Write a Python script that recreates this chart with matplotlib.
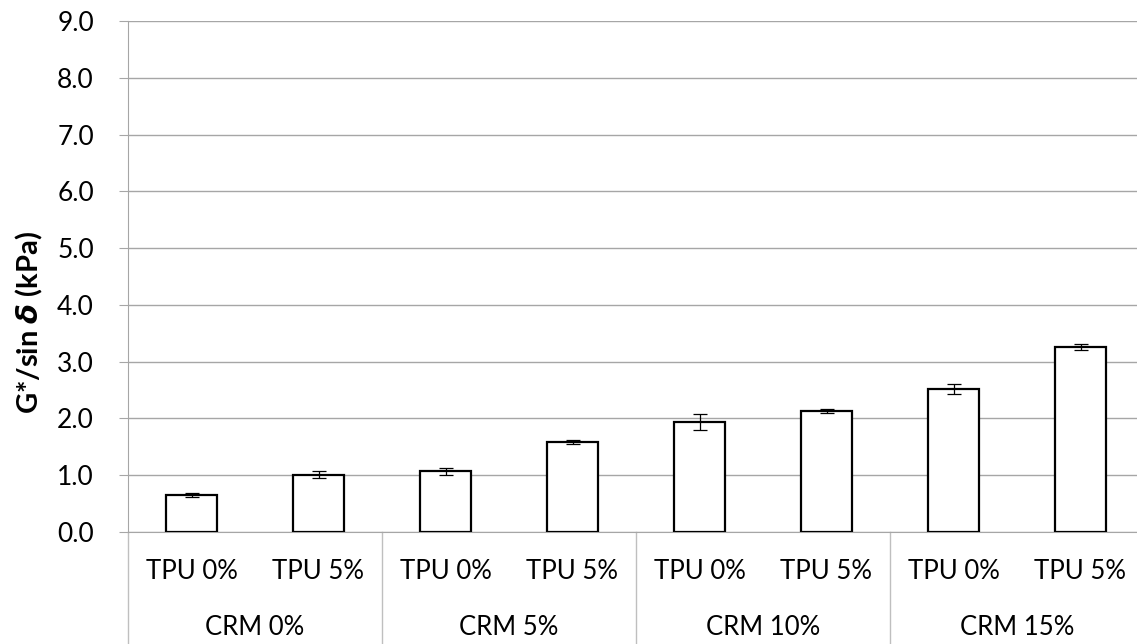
import numpy as np
import matplotlib
matplotlib.use('Agg')
import matplotlib.pyplot as plt
import matplotlib.transforms as mtransforms

plt.rcParams['font.family'] = ['Lato', 'DejaVu Sans']
plt.rcParams['mathtext.fontset'] = 'dejavusans'

# data
tpu_labels = ['TPU 0%', 'TPU 5%'] * 4
crm_labels = ['CRM 0%', 'CRM 5%', 'CRM 10%', 'CRM 15%']
values = [0.65, 1.01, 1.07, 1.58, 1.94, 2.13, 2.52, 3.26]
errors = [0.035, 0.065, 0.065, 0.035, 0.14, 0.04, 0.09, 0.047]

W, H = 1137, 644
fig = plt.figure(figsize=(W / 100, H / 100), dpi=100)
ax = fig.add_axes([128 / W, (H - 532) / H, 1016 / W, 511 / H])

x = np.arange(len(values))
ax.bar(x, values, width=0.4, color='white', edgecolor='black', linewidth=1.6, zorder=3)
ax.errorbar(x, values, yerr=errors, fmt='none', ecolor='black', elinewidth=0.9,
            capsize=5, capthick=0.9, zorder=4)

ax.set_xlim(-0.5, 7.5)
ax.set_ylim(0, 9)
ax.set_yticks(np.arange(0, 10, 1))
ax.set_yticklabels(['%.1f' % v for v in np.arange(0, 10, 1)], fontsize=19)
ax.set_xticks([])
ax.grid(axis='y', color='#a6a6a6', linewidth=1, zorder=0)
ax.tick_params(axis='y', length=6.5, color='#a6a6a6', pad=18)
for s in ['top', 'right']:
    ax.spines[s].set_visible(False)
ax.spines['left'].set_color('#a6a6a6')
ax.spines['bottom'].set_color('#a6a6a6')

fig.text(29 / W, 1 - 322 / H, r'G*/sin $\boldsymbol{\delta}$ (kPa)', rotation=90,
         ha='center', va='center', fontsize=21, fontweight='bold')

# category axis: two levels
trans = mtransforms.blended_transform_factory(ax.transData, ax.transAxes)
for i, lab in enumerate(tpu_labels):
    ax.text(i, -0.078, lab, transform=trans, ha='center', va='center', fontsize=18.5)
for j, lab in enumerate(crm_labels):
    ax.text(2 * j + 0.5, -0.186, lab, transform=trans, ha='center', va='center', fontsize=18.5)
for j in range(5):
    ax.plot([2 * j - 0.5] * 2, [0, -0.3], transform=trans, color='#bfbfbf',
            linewidth=1, clip_on=False)

fig.savefig('out.png', dpi=100)
